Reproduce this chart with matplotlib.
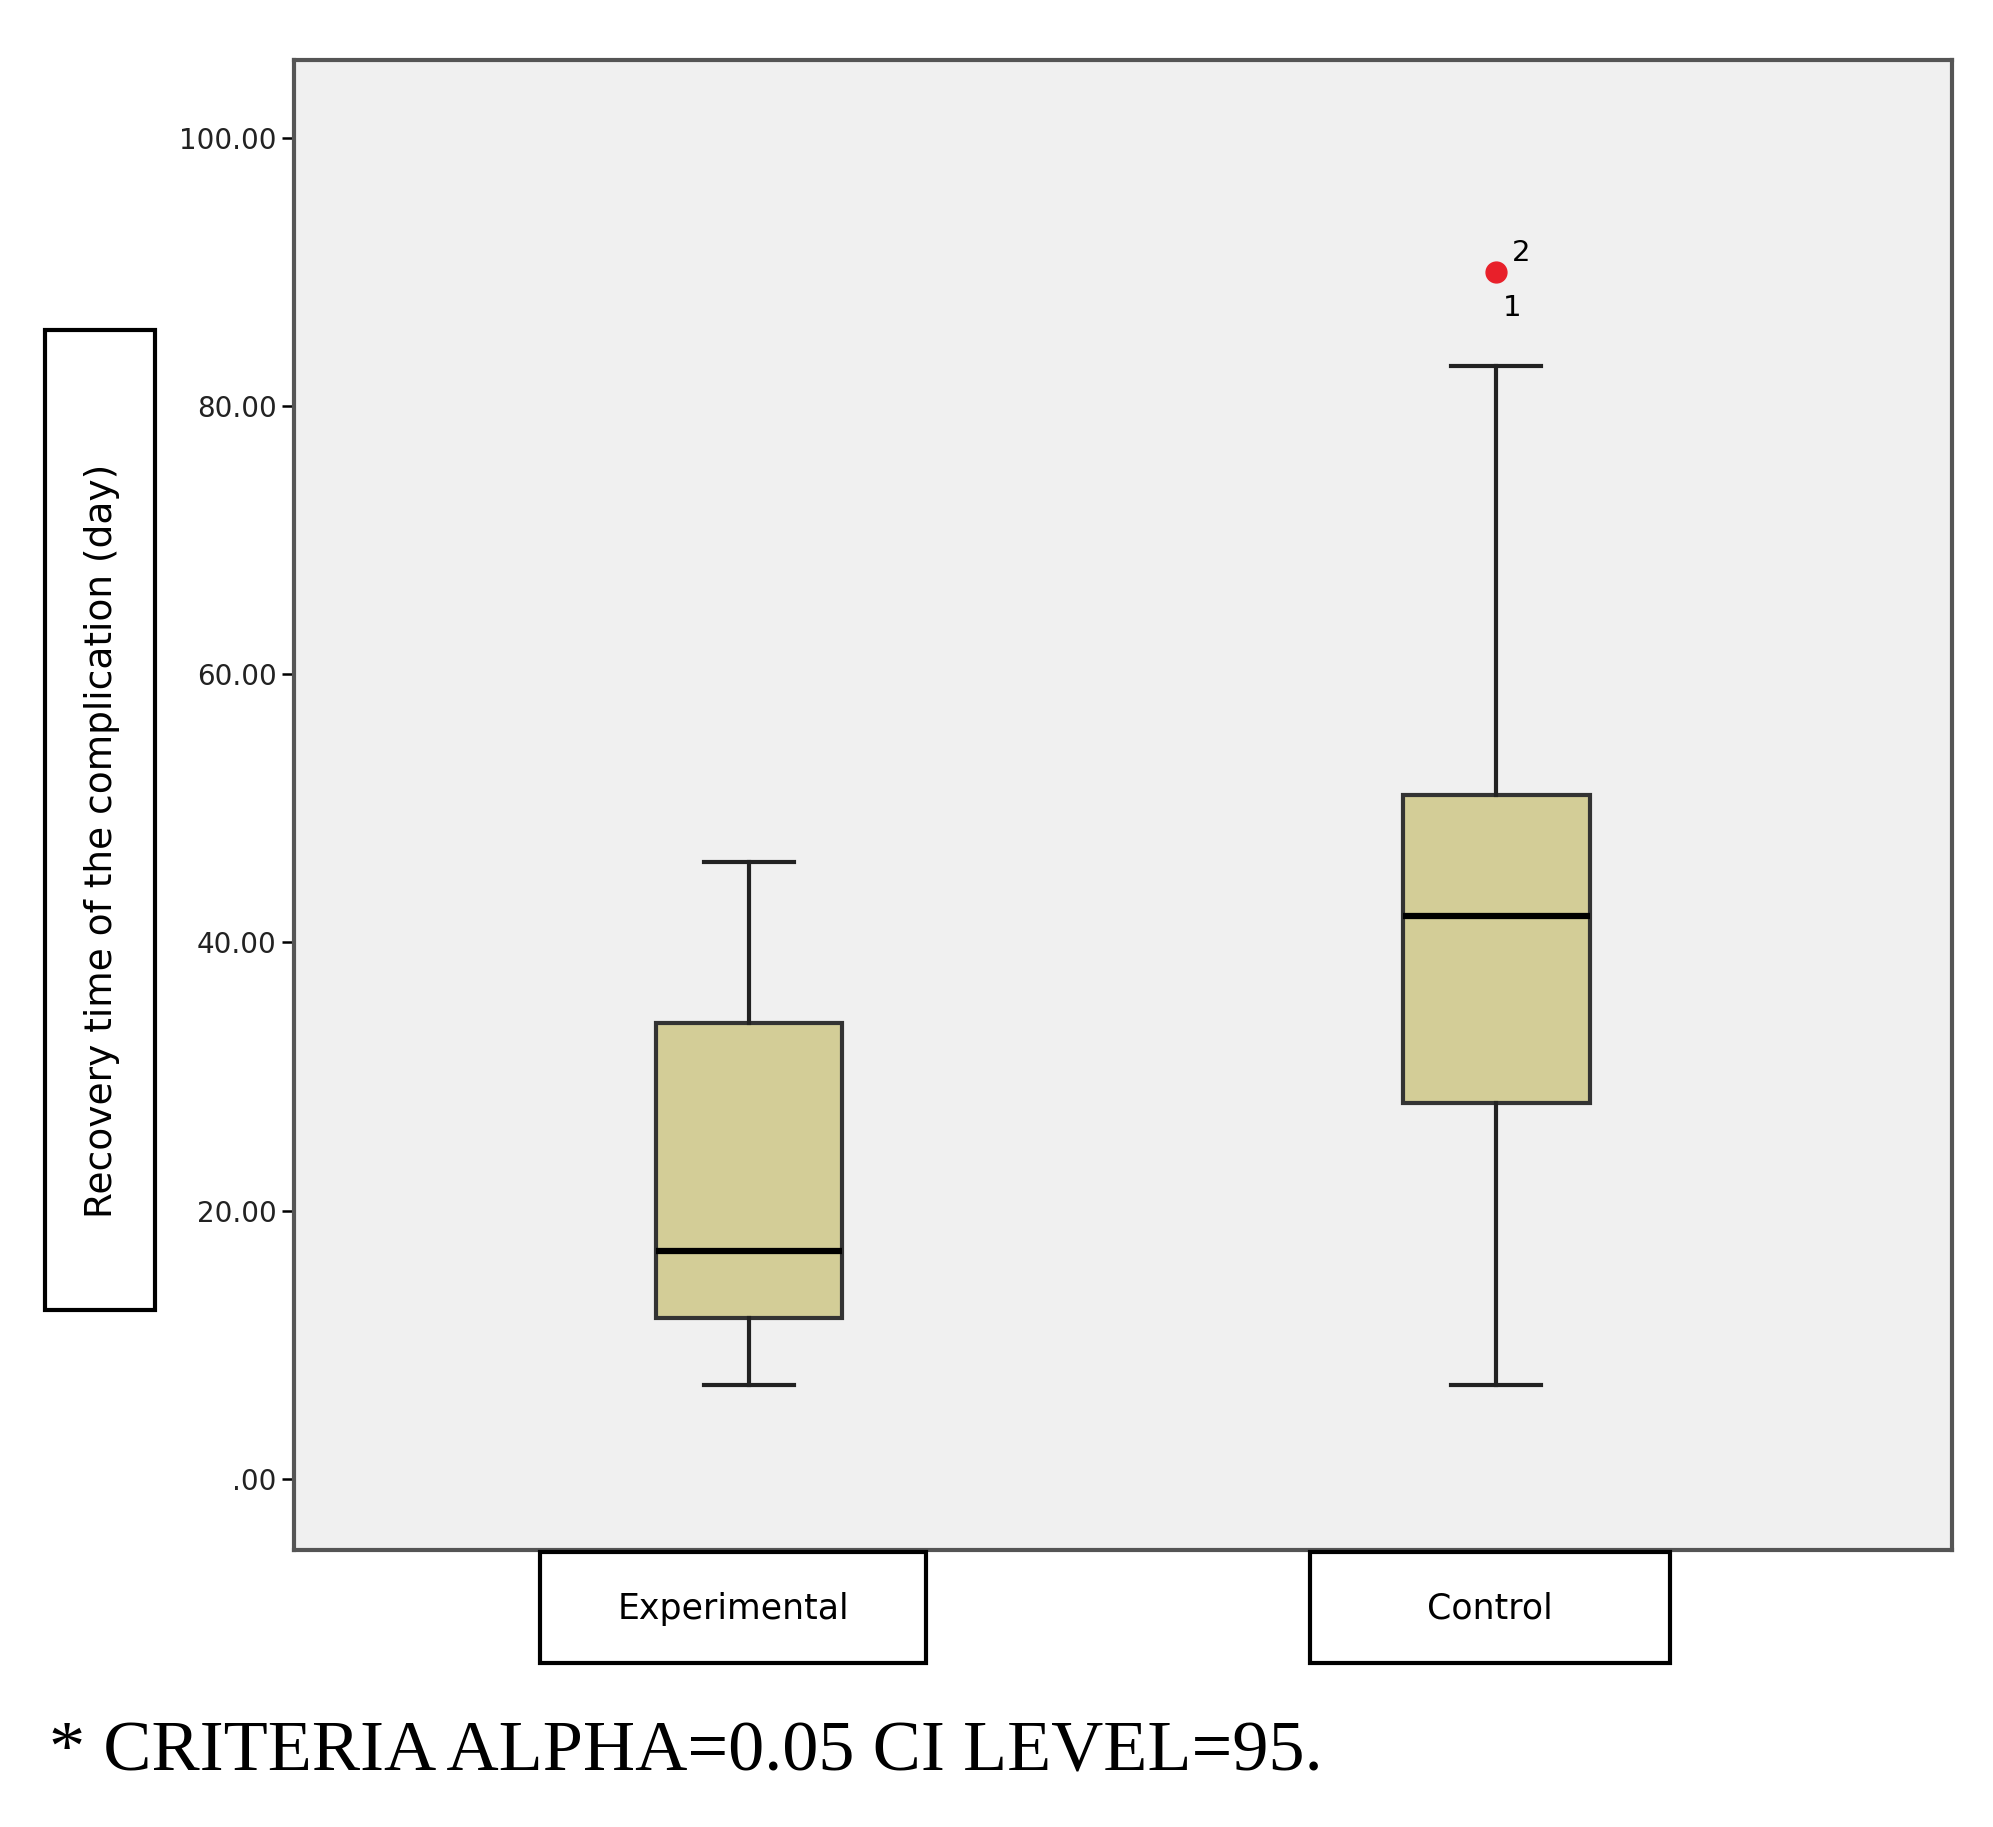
import matplotlib
matplotlib.use("Agg")
import matplotlib.pyplot as plt
from matplotlib.patches import Rectangle

groups = ["Experimental", "Control"]
whislo = [7, 7]
q1 = [12, 28]
med = [17, 42]
q3 = [34, 51]
whishi = [46, 83]
outliers = [[], [90]]
outlier_ids = [[], ["2", "1"]]
yticks = [0, 20, 40, 60, 80, 100]
ytick_labels = [".00", "20.00", "40.00", "60.00", "80.00", "100.00"]

W, H = 1560.0, 1430.0
fig = plt.figure(figsize=(19.93, 18.27), dpi=100)
ax = fig.add_axes([230 / W, 1 - 1213 / H, 1298 / W, 1166 / H])
ax.set_facecolor("#f0f0f0")

stats = [dict(whislo=whislo[i], q1=q1[i], med=med[i], q3=q3[i], whishi=whishi[i],
              fliers=outliers[i], label=groups[i]) for i in range(2)]
ax.bxp(stats, positions=[1, 2], widths=0.25, patch_artist=True,
       boxprops=dict(facecolor="#d3cd97", edgecolor="#333333", linewidth=3),
       medianprops=dict(color="black", linewidth=4.5),
       whiskerprops=dict(color="#222222", linewidth=3),
       capprops=dict(color="#222222", linewidth=3), capwidths=0.12,
       flierprops=dict(marker="o", markerfacecolor="#e8202a", markeredgecolor="#e8202a", markersize=15))
for i in range(2):
    for v in outliers[i]:
        ax.annotate(outlier_ids[i][0], (i + 1, v), xytext=(11, 8), textcoords="offset points", fontsize=21)
        ax.annotate(outlier_ids[i][1], (i + 1, v), xytext=(5, -32), textcoords="offset points", fontsize=21)

ax.set_xlim(0.391, 2.61)
ax.set_ylim(-5.3, 105.8)
ax.set_yticks(yticks)
ax.set_yticklabels(ytick_labels, fontsize=20, color="#222222")
ax.tick_params(axis="y", length=9, width=1.8)
ax.set_xticks([])
for s in ax.spines.values():
    s.set_color("#555555")
    s.set_linewidth(3)

def box(x0, y0, x1, y1):
    fig.patches.append(Rectangle((x0 / W, 1 - y1 / H), (x1 - x0) / W, (y1 - y0) / H,
                                 transform=fig.transFigure, facecolor="white",
                                 edgecolor="black", linewidth=3))

box(423, 1215, 725, 1302)
box(1025, 1215, 1307, 1302)
box(35, 258, 121, 1025)
fig.text(574 / W, 1 - 1259 / H, groups[0], ha="center", va="center", fontsize=25)
fig.text(1166 / W, 1 - 1259 / H, groups[1], ha="center", va="center", fontsize=25)
fig.text(80 / W, 1 - 658 / H, "Recovery time of the complication (day)", rotation=90,
         ha="center", va="center", fontsize=27)
fig.text(38 / W, 1 - 1372 / H, "* CRITERIA ALPHA=0.05 CI LEVEL=95.", family="Liberation Serif",
         fontsize=52, ha="left", va="center")

fig.savefig("out.png", dpi=100)
